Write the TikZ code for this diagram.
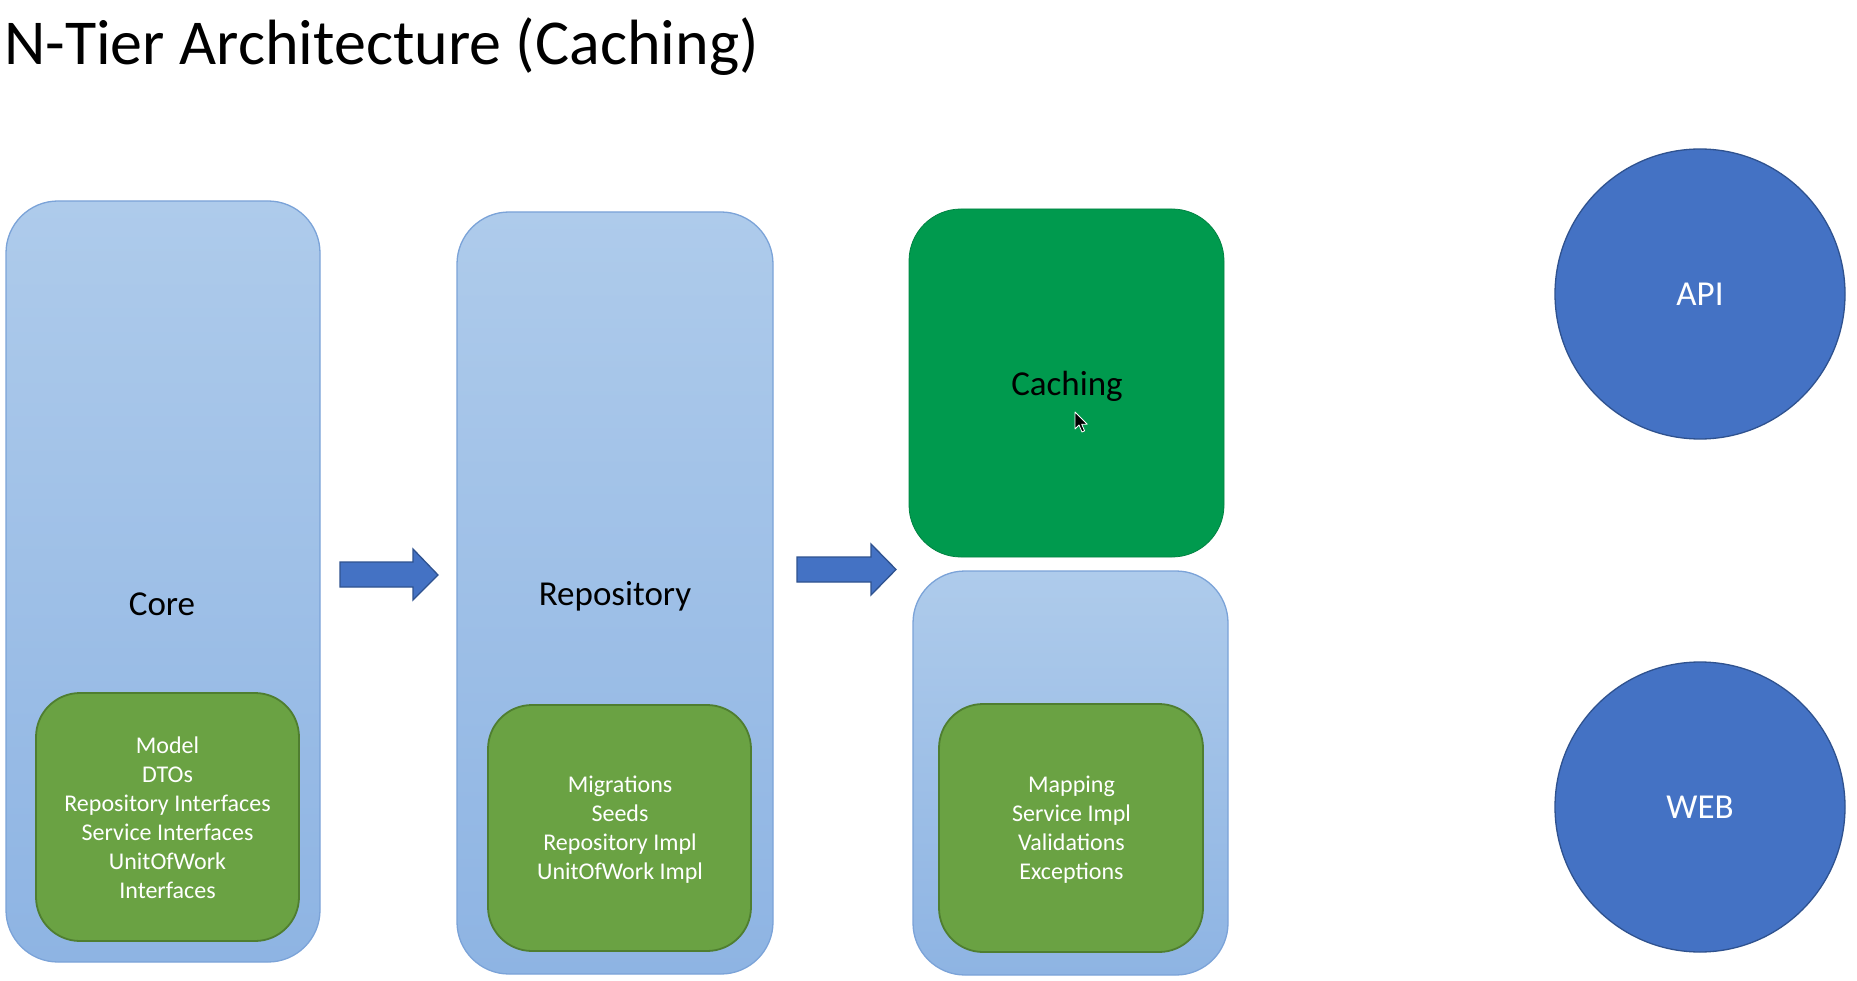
\documentclass[tikz,border=0pt]{standalone}
\usepackage{fontspec}
\setmainfont{Carlito}
\definecolor{tiertop}{HTML}{AECBEB}
\definecolor{tierbot}{HTML}{8EB4E3}
\definecolor{tierline}{HTML}{7BA3D8}
\definecolor{libfill}{HTML}{6AA243}
\definecolor{libline}{HTML}{4F7E30}
\definecolor{cachefill}{HTML}{009A4E}
\definecolor{appfill}{HTML}{4472C4}
\definecolor{appline}{HTML}{2F528F}
\tikzset{
  tier/.style={rounded corners=52pt, top color=tiertop, bottom color=tierbot, draw=tierline, line width=1.3pt, inner sep=0pt},
  lib/.style={rounded corners=44pt, fill=libfill, draw=libline, line width=1.8pt, inner sep=0pt},
  cachebox/.style={rounded corners=52pt, fill=cachefill, draw=cachefill!85!black, line width=0.8pt, inner sep=0pt},
  app/.style={circle, fill=appfill, draw=appline, line width=1.3pt, minimum size=290pt, inner sep=0pt, text=white, font=\fontsize{35}{42}\selectfont},
  label/.style={inner sep=0pt, font=\fontsize{35}{42}\selectfont, text=black},
  libtext/.style={inner sep=0pt, align=center, text=white, font=\fontsize{24}{29}\selectfont},
  blockarrow/.style={fill=appfill, draw=appline, line width=1.3pt, line join=miter},
}
\begin{document}
\begin{tikzpicture}[x=1pt, y=-1pt]
\useasboundingbox[fill=white] (0,0) rectangle (1857,981);

% title
\node[anchor=base west, inner sep=0pt, font=\fontsize{64}{77}\selectfont] (title) at (4,65) {N-Tier Architecture (Caching)};

% tier boxes
\node[tier, minimum width=314pt, minimum height=761pt] (core) at (163,581.5) {};
\node[tier, minimum width=316pt, minimum height=762pt] (repo) at (615,593) {};
\node[tier, minimum width=315pt, minimum height=404pt] (service) at (1070.5,773) {};
\node[cachebox, minimum width=315pt, minimum height=348pt] (caching) at (1066.5,383) {};

% labels
\node[label, anchor=base] (corelbl) at (162,615) {Core};
\node[label, anchor=base] (repolbl) at (615,605) {Repository};
\node[label, anchor=base] (cachelbl) at (1067,395) {Caching};

% inner green boxes
\node[lib, minimum width=263pt, minimum height=248pt] (corelib) at (167.5,817) {};
\node[lib, minimum width=263pt, minimum height=246pt] (repolib) at (619.5,828) {};
\node[lib, minimum width=264pt, minimum height=248pt] (servicelib) at (1071,828) {};

\node[libtext] (coretext) at (167.5,818) {Model\\DTOs\\Repository Interfaces\\Service Interfaces\\UnitOfWork\\Interfaces};
\node[libtext] (repotext) at (620,830) {Migrations\\Seeds\\Repository Impl\\UnitOfWork Impl};
\node[libtext] (servicetext) at (1071.5,830) {Mapping\\Service Impl\\Validations\\Exceptions};

% block arrows
\draw[blockarrow] (340,562) -- (413,562) -- (413,549) -- (438,575) -- (413,600) -- (413,587) -- (340,587) -- cycle;
\draw[blockarrow] (797,557) -- (871,557) -- (871,544) -- (896,569.5) -- (871,595) -- (871,582) -- (797,582) -- cycle;

% apps
\node[app] (api) at (1700,294) {API};
\node[app] (web) at (1700,807) {WEB};

% mouse pointer
\coordinate (tip) at (1075,412);
\draw[fill=black, draw=white, line width=0.8pt, line join=round] (tip) -- ++(0,17) -- ++(4,-4) -- ++(3,7) -- ++(2.6,-1.2) -- ++(-3,-6.6) -- ++(5.6,0) -- cycle;
\end{tikzpicture}
\end{document}
